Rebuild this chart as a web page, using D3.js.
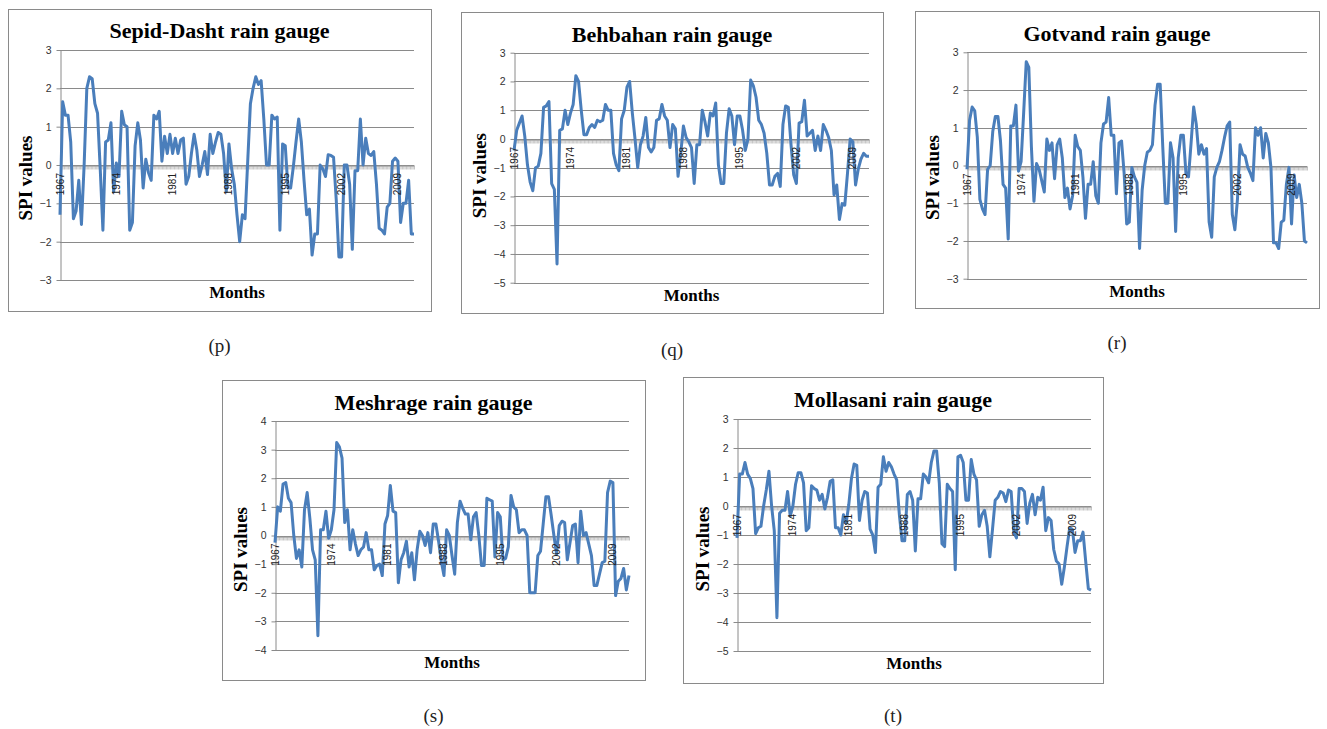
<!DOCTYPE html>
<html>
<head>
<meta charset="utf-8">
<script src="https://cdn.jsdelivr.net/npm/d3@7"></script>
<style>
  body { margin: 0; background: #fff; }
</style>
</head>
<body>
<svg id="chart" width="1327" height="729"></svg>
<script>
// SPI series, one value every 4 months starting Jan 1967
var START_YEAR = 1967,
    STEP_MONTHS = 4;

var yearLabels = [1967, 1974, 1981, 1988, 1995, 2002, 2009];

var sepidDasht = [
  -1.3, 1.65, 1.3, 1.3, 0.6, -1.4, -1.2, -0.4, -1.55, 0.0,
  2.0, 2.3, 2.25, 1.6, 1.35, -0.1, -1.7, 0.6, 0.65, 1.1,
  -0.7, 0.05, -0.3, 1.4, 1.05, 1.0, -1.7, -1.5, 0.5, 1.1,
  0.65, -0.6, 0.15, -0.2, -0.4, 1.3, 1.2, 1.4, 0.1, 0.75,
  0.3, 0.8, 0.3, 0.7, 0.3, 0.65, 0.7, -0.5, -0.3, 0.3,
  0.8, 0.4, -0.3, 0.0, 0.35, -0.25, 0.8, 0.3, 0.6, 0.85,
  0.8, 0.3, -0.7, 0.55, -0.1, -0.5, -1.3, -2.0, -1.3, -1.4,
  0.1, 1.6, 2.0, 2.3, 2.1, 2.2, 1.2, 0.0, 0.0, 1.3,
  1.2, 1.25, -1.7, 0.55, 0.5, -0.6, -0.6, -0.05, 0.6, 1.2,
  0.6, -0.4, -1.3, -1.15, -2.35, -1.8, -1.8, 0.0, -0.1, -0.3,
  0.27, 0.25, 0.2, -0.9, -2.4, -2.4, 0.0, 0.0, -0.5, -2.2,
  -0.15, -0.15, 1.2, 0.0, 0.7, 0.3, 0.25, 0.35, -0.5, -1.65,
  -1.7, -1.8, -1.1, -1.0, 0.1, 0.18, 0.1, -1.5, -1.0, -1.0,
  -0.4, -1.8, -1.8
];

var behbahan = [
  -0.4, 0.3, 0.55, 0.8, 0.1, -0.9, -1.5, -1.8, -1.0, -0.95,
  -0.5, 1.1, 1.15, 1.3, -1.55, -1.75, -4.35, 0.3, 0.35, 1.0,
  0.5, 0.9, 1.2, 2.2, 2.0, 1.0, 0.15, 0.15, 0.4, 0.5,
  0.4, 0.65, 0.6, 0.65, 1.2, 1.0, 1.0, -0.5, -0.9, -1.1,
  0.7, 1.0, 1.8, 2.0, 0.9, 0.0, -1.0, -0.2, 0.1, 0.75,
  -0.3, -0.45, -0.3, 0.65, 0.7, 1.2, 0.8, 0.65, -0.3, 0.5,
  0.35, -1.3, -0.5, 0.45, 0.05, -0.1, -0.3, -1.55, -0.2, -0.2,
  1.0, 0.6, 0.1, 0.9, 0.8, 1.25, -0.9, -1.55, -1.55, 0.2,
  1.05, 0.8, -0.2, 0.8, 0.8, 0.3, -0.4, 0.0, 2.05, 1.85,
  1.45, 0.65, 0.5, 0.2, -0.5, -1.6, -1.6, -1.3, -1.2, -1.65,
  0.5, 1.15, 1.1, -0.2, -1.25, -1.55, 0.55, 0.6, 1.35, 0.1,
  0.2, 0.3, -0.4, 0.1, -0.4, 0.5, 0.3, 0.05, -0.4, -1.95,
  -1.6, -2.8, -2.25, -2.3, -1.2, 0.0, -0.1, -1.6, -1.05, -0.7,
  -0.5, -0.6, -0.6
];

var gotvand = [
  -0.1, 1.2, 1.55, 1.45, 0.75, -0.9, -1.15, -1.3, -0.1, 0.0,
  0.9, 1.3, 1.3, 0.65, -0.5, -0.6, -1.95, 1.05, 1.05, 1.6,
  -0.15, 0.1, 1.4, 2.75, 2.6, 0.5, -0.95, 0.05, -0.1, -0.4,
  -0.7, 0.7, 0.4, 0.6, -0.35, 0.55, 0.7, 0.2, -0.85, -0.6,
  -1.15, -0.8, 0.8, 0.5, 0.4, -0.3, -1.4, -0.5, -0.5, 0.1,
  -0.8, -1.0, 0.6, 1.1, 1.15, 1.8, 0.8, 0.8, -0.75, 0.6,
  0.65, -0.2, -1.55, -1.5, -0.05, -0.3, -0.45, -2.2, -0.65, 0.0,
  0.35, 0.4, 0.55, 1.6, 2.15, 2.15, 0.5, -1.0, -1.0, 0.6,
  0.2, -1.75, 0.2, 0.8, 0.8, -0.2, -0.3, 0.6, 1.55, 1.1,
  0.3, 0.55, 0.3, 0.45, -1.5, -1.9, -0.3, -0.05, 0.1, 0.4,
  0.75, 1.05, 1.15, -1.3, -1.7, -0.9, 0.55, 0.3, 0.25, -0.05,
  -0.2, -0.4, 1.0, 0.8, 1.0, 0.2, 0.85, 0.6, -0.05, -2.05,
  -2.05, -2.2, -1.5, -1.45, -0.5, -0.05, -1.55, -0.25, -0.85, -0.5,
  -1.0, -2.0, -2.05
];

var meshrage = [
  -0.25, 1.0, 0.85, 1.8, 1.85, 1.3, 1.15, 0.0, -0.8, -0.5,
  -1.1, 0.9, 1.5, 0.6, -0.5, -0.85, -3.5, 0.2, 0.2, 0.85,
  -0.1, 0.2, 0.9, 3.25, 3.1, 2.7, 0.45, 0.9, -0.5, 0.2,
  -0.3, -0.7, -0.5, -0.4, 0.1, -0.5, -0.5, -1.2, -1.05, -1.0,
  -1.4, 0.4, 0.7, 1.75, 0.85, 0.8, -1.65, -0.85, -0.6, -0.2,
  -1.1, -0.6, -1.55, -0.5, 0.15, 0.0, -0.35, 0.1, -0.6, 0.4,
  0.4, -0.2, -0.9, -1.4, 0.2, 0.0, -0.7, -1.35, 0.45, 1.2,
  0.95, 0.75, 0.75, -0.15, 0.65, 0.8, 0.0, -1.05, -1.05, 1.3,
  1.25, 1.2, -0.75, 0.8, 0.65, -0.85, -0.8, -0.4, 1.4, 1.0,
  0.9, 0.1, 0.2, 0.2, 0.0, -2.0, -2.0, -2.0, -0.7, -0.55,
  0.4, 1.35, 1.35, 0.7, 0.0, -0.65, 0.35, 0.5, 0.45, -0.85,
  -0.25, 0.35, 0.4, -0.95, 0.85, 0.0, 0.1, -0.3, -0.7, -1.75,
  -1.75, -1.35, -0.95, -0.9, 1.5, 1.9, 1.85, -2.1, -1.6, -1.5,
  -1.15, -1.9, -1.4
];

var mollasani = [
  -1.1, 1.1, 1.1, 1.5, 1.1, 0.95, 0.6, -0.95, -0.75, -0.7,
  0.0, 0.55, 1.2, 0.0, -0.85, -3.85, -0.25, -0.15, -0.15, 0.5,
  -0.35, 0.0, 0.75, 1.15, 1.15, 0.8, -0.85, -0.75, 0.7, 0.6,
  0.55, 0.2, 0.4, -0.1, 0.3, 0.85, 0.9, -0.75, -0.75, -1.0,
  -0.3, -0.6, 0.05, 0.95, 1.45, 1.4, -0.5, 0.2, 0.5, 0.45,
  -0.8, -1.0, -1.6, 0.65, 0.75, 1.7, 1.2, 1.5, 1.35, 1.1,
  0.9, -0.3, -1.2, -1.2, 0.4, 0.5, 0.2, -1.55, 0.25, 0.25,
  1.1, 1.0, 0.8, 1.5, 1.9, 1.9, 0.8, -1.3, -1.4, 0.75,
  0.6, 0.5, -2.2, 1.7, 1.75, 1.5, 0.2, 0.2, 1.6, 1.1,
  0.9, -0.7, -0.3, -0.15, -0.7, -1.75, -0.8, 0.2, 0.3, 0.5,
  0.45, 0.15, 0.55, 0.5, -0.9, -1.1, 0.6, 0.6, 0.5, -0.6,
  0.1, 0.4, -0.3, 0.3, 0.2, 0.65, -0.85, -0.4, -0.5, -1.5,
  -1.9, -2.0, -2.7, -2.1, -1.4, -0.75, -0.8, -1.6, -1.2, -1.2,
  -0.9, -1.9, -2.85, -2.9
];

// panel layout: [box x0, y0, x1, y1], plot area [left, top, right, bottom]
var panels = [
  { title: 'Sepid-Dasht rain gauge', values: sepidDasht, yMin: -3, yMax: 3,
    box: [8, 9, 431, 311], plot: [60, 50, 414, 280], titleY: 38, caption: '(p)', captionY: 352, spiDy: 13 },
  { title: 'Behbahan rain gauge', values: behbahan, yMin: -5, yMax: 3,
    box: [461, 12, 883, 313], plot: [514, 52.7, 869, 282.7], titleY: 42, caption: '(q)', captionY: 356, spiDy: 8 },
  { title: 'Gotvand rain gauge', values: gotvand, yMin: -3, yMax: 3,
    box: [915, 11, 1319, 308], plot: [967, 52.3, 1307, 278.7], titleY: 41, caption: '(r)', captionY: 349, spiDy: 12 },
  { title: 'Meshrage rain gauge', values: meshrage, yMin: -4, yMax: 4,
    box: [222, 380, 645, 680], plot: [275, 421, 629, 650], titleY: 410, caption: '(s)', captionY: 722, spiDy: 14 },
  { title: 'Mollasani rain gauge', values: mollasani, yMin: -5, yMax: 3,
    box: [683, 377, 1103, 683], plot: [737, 419, 1091, 651], titleY: 407, caption: '(t)', captionY: 722, spiDy: 14 }
];

var GRID = '#8a8a8a',
    LINE = '#4a7ebb',
    SERIF = '"Liberation Serif", "Times New Roman", serif',
    SANS = '"Liberation Sans", Arial, sans-serif';

var svg = d3.select('#chart');

panels.forEach(function(p) {
  var g = svg.append('g');
  var L = p.plot[0], T = p.plot[1], R = p.plot[2], B = p.plot[3];
  var nMonths = (p.values.length - 1) * STEP_MONTHS;

  var x = d3.scaleLinear().domain([0, nMonths]).range([L, R]);
  var y = d3.scaleLinear().domain([p.yMin, p.yMax]).range([B, T]);

  // outer frame
  g.append('rect')
      .attr('x', p.box[0] + 0.5)
      .attr('y', p.box[1] + 0.5)
      .attr('width', p.box[2] - p.box[0])
      .attr('height', p.box[3] - p.box[1])
      .attr('fill', '#fff')
      .attr('stroke', GRID)
      .attr('stroke-width', 1);

  // horizontal gridlines
  var yTicks = d3.range(p.yMin, p.yMax + 1);
  g.append('g').selectAll('line')
    .data(yTicks)
    .enter()
    .append('line')
      .attr('x1', L)
      .attr('x2', R)
      .attr('y1', function(d) { return Math.round(y(d)) + 0.5; })
      .attr('y2', function(d) { return Math.round(y(d)) + 0.5; })
      .attr('stroke', GRID)
      .attr('stroke-width', 1);

  // value axis
  var yAxis = g.append('g')
      .attr('transform', 'translate(' + (Math.round(L) + 0.5) + ',0)')
      .call(d3.axisLeft(y).tickValues(yTicks).tickFormat(d3.format('d'))
              .tickSizeInner(4).tickSizeOuter(0).tickPadding(5));
  yAxis.selectAll('path, line').attr('stroke', GRID);
  yAxis.selectAll('text')
      .attr('fill', '#333')
      .style('font-family', SANS)
      .style('font-size', '10.5px');

  // category axis crossing at zero, with a tick every two months
  var xAxis = g.append('g')
      .attr('transform', 'translate(0,' + (Math.round(y(0)) + 0.5) + ')')
      .call(d3.axisBottom(x).tickValues(d3.range(0, nMonths + 1, 2)).tickSizeInner(4).tickSizeOuter(0).tickFormat(''));
  xAxis.select('path').attr('stroke', GRID);
  xAxis.selectAll('line').attr('stroke', '#a0a0a0').attr('stroke-width', 0.6);

  // SPI series
  var line = d3.line()
      .x(function(d, i) { return x(i * STEP_MONTHS); })
      .y(function(d) { return y(d); });

  g.append('path')
      .datum(p.values)
      .attr('d', line)
      .attr('fill', 'none')
      .attr('stroke', LINE)
      .attr('stroke-width', 3)
      .attr('stroke-linejoin', 'round');

  // year labels sit on top of the line, as in the source
  g.append('g').selectAll('text')
    .data(yearLabels)
    .enter()
    .append('text')
      .attr('transform', function(d) {
        return 'translate(' + x((d - START_YEAR) * 12) + ',' + (y(0) + 8) + ') rotate(-90)';
      })
      .attr('dy', '0.35em')
      .attr('text-anchor', 'end')
      .attr('fill', '#202020')
      .style('font-family', SANS)
      .style('font-size', '10px')
      .text(function(d) { return d; });

  // titles
  g.append('text')
      .attr('x', (p.box[0] + p.box[2]) / 2)
      .attr('y', p.titleY)
      .attr('text-anchor', 'middle')
      .style('font-family', SERIF)
      .style('font-weight', 'bold')
      .style('font-size', '22px')
      .text(p.title);

  g.append('text')
      .attr('transform', 'translate(' + (L - 35) + ',' + ((T + B) / 2 + p.spiDy) + ') rotate(-90)')
      .attr('dy', '0.35em')
      .attr('text-anchor', 'middle')
      .style('font-family', SERIF)
      .style('font-weight', 'bold')
      .style('font-size', '19px')
      .text('SPI values');

  g.append('text')
      .attr('x', (L + R) / 2)
      .attr('y', B + 18)
      .attr('text-anchor', 'middle')
      .style('font-family', SERIF)
      .style('font-weight', 'bold')
      .style('font-size', '17px')
      .text('Months');

  svg.append('text')
      .attr('x', (p.box[0] + p.box[2]) / 2)
      .attr('y', p.captionY)
      .attr('text-anchor', 'middle')
      .attr('fill', '#222')
      .style('font-family', SERIF)
      .style('font-size', '19px')
      .text(p.caption);
});
</script>
</body>
</html>
